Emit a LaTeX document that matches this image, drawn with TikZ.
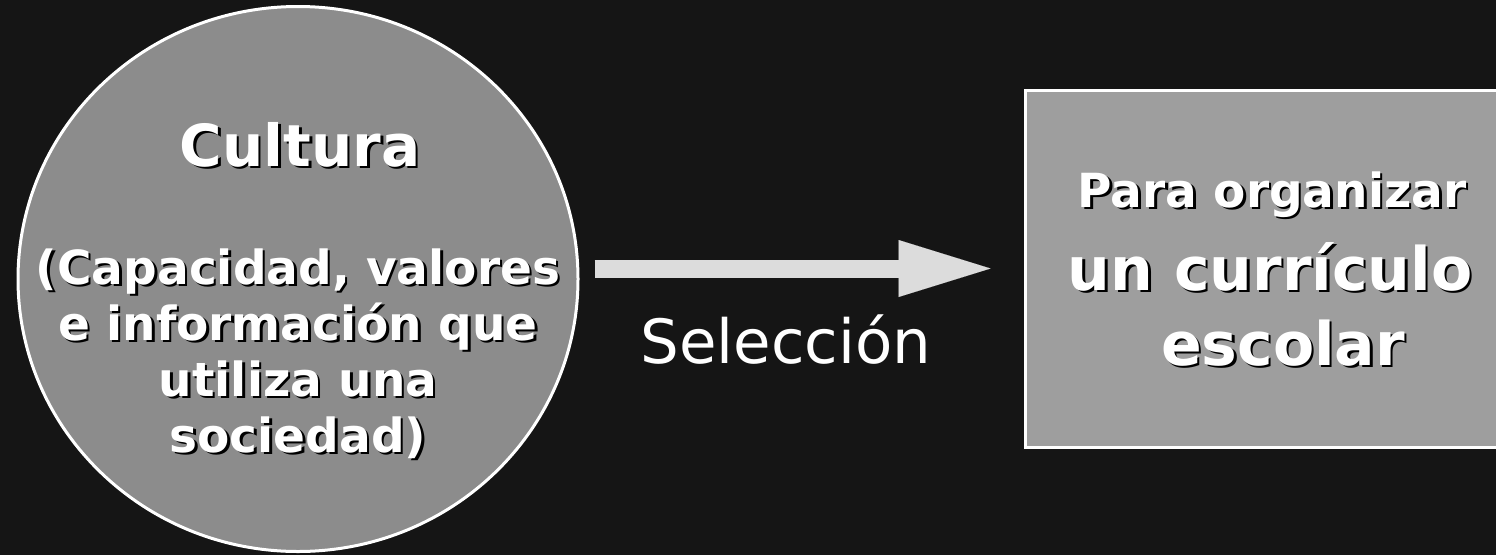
\documentclass[tikz,border=0pt]{standalone}
\usepackage{fontspec}
\setmainfont{DejaVu Sans}
\usetikzlibrary{shapes.geometric,arrows.meta,calc}
\definecolor{bg}{HTML}{151515}
\definecolor{circfill}{HTML}{8C8C8C}
\definecolor{boxfill}{HTML}{9E9E9E}
\definecolor{arrowfill}{HTML}{DCDCDC}
\newcommand\shd[1]{\rlap{\kern2.5pt\raisebox{-2.5pt}{\textcolor{black}{#1}}}#1}
\begin{document}
\begin{tikzpicture}[x=1pt,y=-1pt,
  txt/.style={text=white, inner sep=0pt, anchor=base},
  bold47/.style={txt, font=\fontsize{47}{56}\selectfont\bfseries},
  bold60/.style={txt, font=\fontsize{60}{72}\selectfont\bfseries},
  shapeline/.style={draw=white, line width=3pt, inner sep=0pt}]
\fill[bg] (0,0) rectangle (1496,555);
\useasboundingbox (0,0) rectangle (1496,555);
\node[ellipse, shapeline, fill=circfill, minimum width=560pt, minimum height=545pt] (circ) at (298,279) {};
\node[rectangle, shapeline, fill=boxfill, minimum width=494pt, minimum height=357pt] (box) at (1272,268.5) {};
\draw[line width=18pt, arrowfill, -{Triangle[length=92pt,width=57pt,line width=0.01pt]}]
  ($(circ.east |- box.west)+(15,0)$) -- ($(box.west)+(-33,0)$);
\node[txt, font=\fontsize{58}{70}\selectfont\bfseries] (cult) at (300,166) {\shd{Cultura}};
\node[bold47] (d1) at (298,284) {\shd{(Capacidad, valores}};
\node[bold47] (d2) at (298,340) {\shd{e información que}};
\node[bold47] (d3) at (298,396) {\shd{utiliza una}};
\node[bold47] (d4) at (298,452) {\shd{sociedad)}};
\node[txt, font=\fontsize{61}{72}\selectfont] (sel) at (786,363) {Selección};
\node[bold47] (r1) at (1272,207) {\shd{Para organizar}};
\node[bold60] (r2) at (1270,290) {\shd{un currículo}};
\node[bold60] (r3) at (1283,365) {\shd{escolar}};
\end{tikzpicture}
\end{document}
